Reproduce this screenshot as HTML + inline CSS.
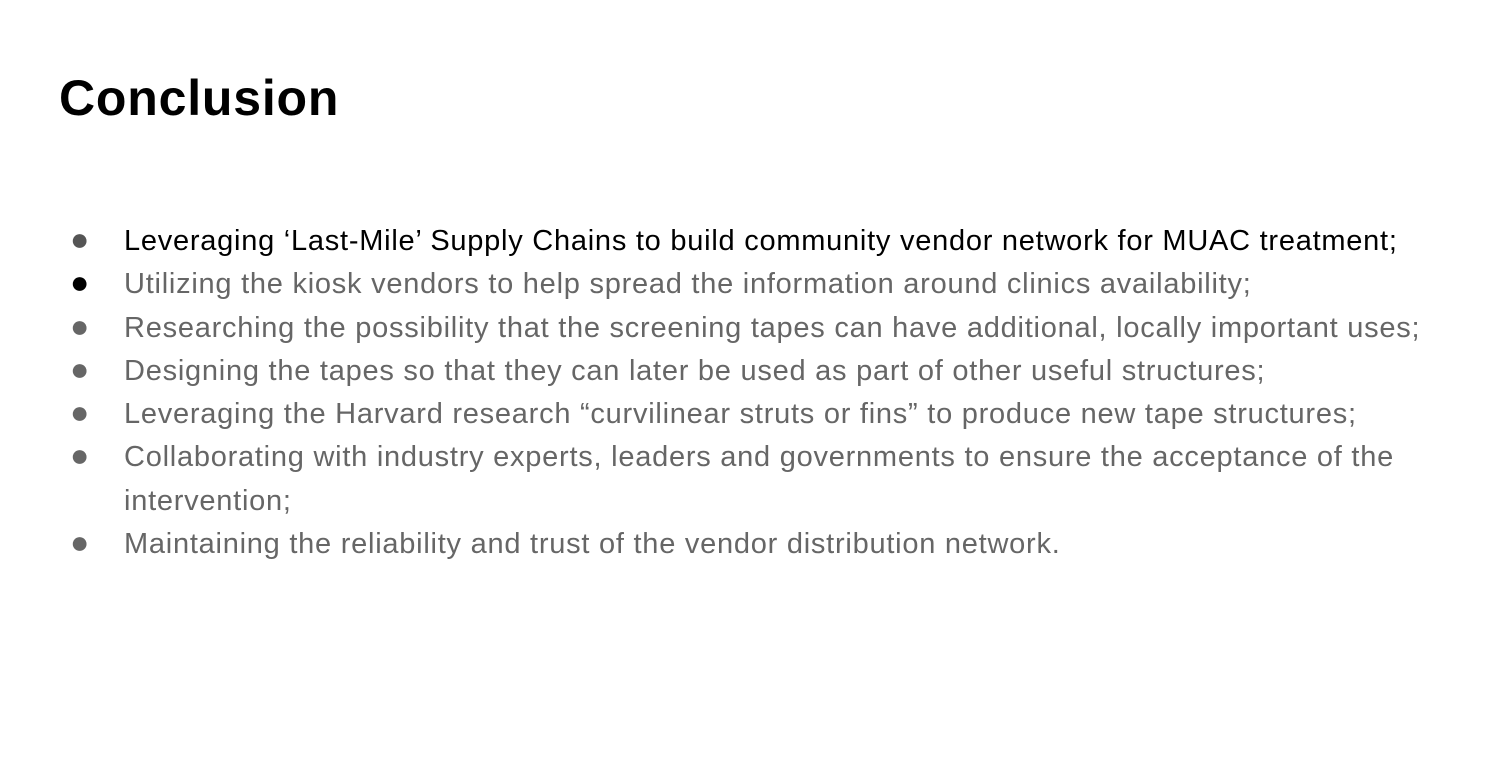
<!DOCTYPE html>
<html><head><meta charset="utf-8"><style>
body{margin:0;width:1495px;height:762px;background:#fff;font-family:"Liberation Sans",sans-serif;position:relative;overflow:hidden}
h1{position:absolute;left:59px;top:68px;margin:0;font-size:50px;font-weight:bold;color:#000;line-height:60px;letter-spacing:0.8px}
ul{position:absolute;left:0;top:220px;margin:0;padding:0;list-style:none}
li{position:relative;padding-left:124px;font-size:29px;line-height:43.3px;color:#666;white-space:nowrap;letter-spacing:0.75px}
li .b{position:absolute;left:70px;top:-2px;font-size:32px;line-height:43.3px;color:#000;letter-spacing:0}
li.first{color:#000}
li.first .b{color:#555}
</style></head><body>
<h1>Conclusion</h1>
<ul>
<li class="first"><span class="b">●</span>Leveraging ‘Last-Mile’ Supply Chains to build community vendor network for MUAC treatment;</li>
<li><span class="b">●</span>Utilizing the kiosk vendors to help spread the information around clinics availability;</li>
<li><span class="b" style="color:#666">●</span>Researching the possibility that the screening tapes can have additional, locally important uses;</li>
<li><span class="b" style="color:#666">●</span>Designing the tapes so that they can later be used as part of other useful structures;</li>
<li><span class="b" style="color:#666">●</span>Leveraging the Harvard research “curvilinear struts or fins” to produce new tape structures;</li>
<li><span class="b" style="color:#666">●</span>Collaborating with industry experts, leaders and governments to ensure the acceptance of the<br>intervention;</li>
<li><span class="b" style="color:#666">●</span>Maintaining the reliability and trust of the vendor distribution network.</li>
</ul>
</body></html>
